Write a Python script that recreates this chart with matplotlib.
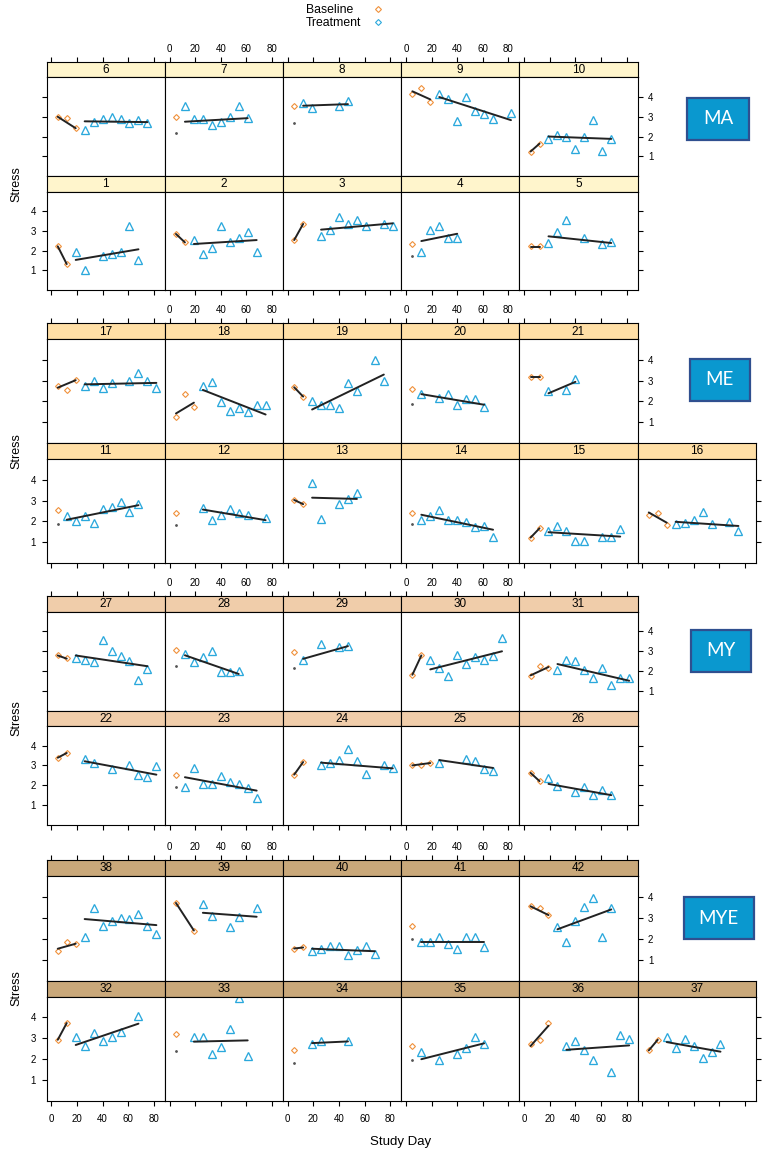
import numpy as np
import matplotlib
matplotlib.use('Agg')
import matplotlib.pyplot as plt
from matplotlib.patches import Rectangle
from matplotlib.lines import Line2D

plt.rcParams['font.family'] = ['Liberation Sans', 'DejaVu Sans']

# ---------------- data ----------------
groups = ['MA', 'ME', 'MY', 'MYE']
top_rows = [[6, 7, 8, 9, 10], [17, 18, 19, 20, 21], [27, 28, 29, 30, 31], [38, 39, 40, 41, 42]]
bottom_rows = [[1, 2, 3, 4, 5], [11, 12, 13, 14, 15, 16], [22, 23, 24, 25, 26], [32, 33, 34, 35, 36, 37]]
x_ticks = [0, 20, 40, 60, 80]
y_ticks = [1, 2, 3, 4]
legend_labels = ['Baseline', 'Treatment']
x_label = 'Study Day'
y_label = 'Stress'

base_days = {
    1: [5, 12], 2: [5, 12], 3: [5, 12], 4: [5], 5: [5, 12],
    6: [5, 12, 19], 7: [5], 8: [5], 9: [5, 12, 19], 10: [5, 12],
    11: [5], 12: [5], 13: [5, 12], 14: [5], 15: [5, 12], 16: [5, 12, 19],
    17: [5, 12, 19], 18: [5, 12, 19], 19: [5, 12], 20: [5], 21: [5, 12],
    22: [5, 12], 23: [5], 24: [5, 12], 25: [5, 12, 19], 26: [5, 12],
    27: [5, 12], 28: [5], 29: [5], 30: [5, 12], 31: [5, 12, 19],
    32: [5, 12], 33: [5], 34: [5], 35: [5], 36: [5, 12, 19], 37: [5, 12],
    38: [5, 12, 19], 39: [5, 19], 40: [5, 12], 41: [5], 42: [5, 12, 19],
}
base_vals = {
    1: [2.22, 1.32], 2: [2.85, 2.42], 3: [2.54, 3.36], 4: [2.34], 5: [2.22, 2.22],
    6: [3.0, 2.95, 2.42], 7: [2.98], 8: [3.54], 9: [4.14, 4.47, 3.73], 10: [1.24, 1.64],
    11: [2.54], 12: [2.41], 13: [3.03, 2.83], 14: [2.41], 15: [1.2, 1.66], 16: [2.33, 2.4, 1.83],
    17: [2.76, 2.56, 3.05], 18: [1.24, 2.37, 1.74], 19: [2.68, 2.23], 20: [2.58], 21: [3.19, 3.19],
    22: [3.39, 3.63], 23: [2.53], 24: [2.53, 3.17], 25: [3.02, 3.02, 3.13], 26: [2.62, 2.2],
    27: [2.79, 2.64], 28: [3.07], 29: [2.98], 30: [1.83, 2.79], 31: [1.76, 2.25, 2.18],
    32: [2.94, 3.73], 33: [3.22], 34: [2.43], 35: [2.63], 36: [2.75, 2.94, 3.75], 37: [2.43, 2.94],
    38: [1.4, 1.82, 1.73], 39: [3.71, 2.39], 40: [1.53, 1.58], 41: [2.6], 42: [3.56, 3.45, 3.13],
}
trt_days = {
    1: [19, 26, 40, 47, 54, 61, 68], 2: [19, 26, 33, 40, 47, 54, 61, 68],
    3: [26, 33, 40, 47, 54, 61, 75, 82], 4: [12, 19, 26, 33, 40], 5: [19, 26, 33, 47, 61, 68],
    6: [26, 33, 40, 47, 54, 61, 68, 75], 7: [12, 19, 26, 33, 40, 47, 54, 61], 8: [12, 19, 40, 47],
    9: [26, 33, 40, 47, 54, 61, 68, 82], 10: [19, 26, 33, 40, 47, 54, 61, 68],
    11: [12, 19, 26, 33, 40, 47, 54, 61, 68], 12: [26, 33, 40, 47, 54, 61, 75], 13: [19, 26, 40, 47, 54],
    14: [12, 19, 26, 33, 40, 47, 54, 61, 68], 15: [19, 26, 33, 40, 47, 61, 68, 75],
    16: [26, 33, 40, 47, 54, 68, 75],
    17: [26, 33, 40, 47, 61, 68, 75, 82], 18: [26, 33, 40, 47, 54, 61, 68, 75],
    19: [19, 26, 33, 40, 47, 54, 68, 75], 20: [12, 26, 33, 40, 47, 54, 61], 21: [19, 33, 40],
    22: [26, 33, 47, 61, 68, 75, 82], 23: [12, 19, 26, 33, 40, 47, 54, 61, 68],
    24: [26, 33, 40, 47, 54, 61, 75, 82], 25: [26, 47, 54, 61, 68], 26: [19, 26, 40, 47, 54, 61, 68],
    27: [19, 26, 33, 40, 47, 54, 61, 68, 75], 28: [12, 19, 26, 33, 40, 47, 54], 29: [12, 26, 40, 47],
    30: [19, 26, 33, 40, 47, 54, 61, 68, 75], 31: [26, 33, 40, 47, 54, 61, 68, 75, 82],
    32: [19, 26, 33, 40, 47, 54, 68], 33: [19, 26, 33, 40, 47, 54, 61], 34: [19, 26, 47],
    35: [12, 26, 40, 47, 54, 61], 36: [33, 40, 47, 54, 68, 75, 82], 37: [19, 26, 33, 40, 47, 54, 61],
    38: [26, 33, 40, 47, 54, 61, 68, 75, 82], 39: [26, 33, 47, 54, 68],
    40: [19, 26, 33, 40, 47, 54, 61, 68], 41: [12, 19, 26, 33, 40, 47, 54, 61],
    42: [26, 33, 40, 47, 54, 61, 68],
}
trt_vals = {
    1: [1.95, 1.03, 1.71, 1.81, 1.92, 3.25, 1.54], 2: [2.56, 1.85, 2.15, 3.27, 2.46, 2.66, 2.95, 1.95],
    3: [2.75, 3.03, 3.7, 3.37, 3.56, 3.24, 3.34, 3.24], 4: [1.95, 3.03, 3.25, 2.63, 2.63],
    5: [2.37, 2.95, 3.56, 2.66, 2.34, 2.46],
    6: [2.35, 2.75, 2.9, 2.97, 2.9, 2.66, 2.83, 2.66], 7: [3.54, 2.9, 2.9, 2.56, 2.76, 2.98, 3.54, 2.93],
    8: [3.7, 3.47, 3.54, 3.78], 9: [4.17, 3.92, 2.8, 3.98, 3.3, 3.14, 2.9, 3.2],
    10: [1.86, 2.1, 2.0, 1.37, 2.0, 2.86, 1.25, 1.86],
    11: [2.25, 2.02, 2.27, 1.94, 2.59, 2.7, 2.94, 2.44, 2.86], 12: [2.65, 2.06, 2.33, 2.6, 2.4, 2.29, 2.17],
    13: [3.84, 2.13, 2.86, 3.06, 3.35], 14: [2.05, 2.25, 2.57, 2.05, 2.05, 1.98, 1.71, 1.79, 1.27],
    15: [1.53, 1.77, 1.56, 1.05, 1.05, 1.24, 1.24, 1.64], 16: [1.86, 1.92, 2.06, 2.44, 1.86, 1.98, 1.52],
    17: [2.76, 3.0, 2.66, 2.87, 3.0, 3.37, 3.0, 2.66], 18: [2.76, 2.92, 1.97, 1.55, 1.68, 1.48, 1.81, 1.81],
    19: [2.0, 1.85, 1.85, 1.66, 2.9, 2.48, 3.98, 2.97], 20: [2.35, 2.15, 2.35, 1.85, 2.1, 2.1, 1.71],
    21: [2.48, 2.55, 3.1],
    22: [3.34, 3.14, 2.84, 3.0, 2.52, 2.43, 2.96], 23: [1.92, 2.88, 2.05, 2.05, 2.47, 2.15, 2.05, 1.87, 1.32],
    24: [3.02, 3.14, 3.26, 3.85, 3.24, 2.55, 3.0, 2.85], 25: [3.13, 3.34, 3.24, 2.84, 2.72],
    26: [2.35, 1.95, 1.64, 1.88, 1.51, 1.74, 1.49],
    27: [2.67, 2.55, 2.48, 3.56, 3.0, 2.78, 2.52, 1.57, 2.13], 28: [2.88, 2.46, 2.69, 3.02, 1.95, 1.95, 2.03],
    29: [2.54, 3.36, 3.22, 3.27], 30: [2.58, 2.15, 1.76, 2.79, 2.37, 2.69, 2.58, 2.75, 3.68],
    31: [2.08, 2.58, 2.52, 2.08, 1.66, 2.17, 1.29, 1.66, 1.66],
    32: [3.05, 2.65, 3.24, 2.87, 3.06, 3.32, 4.06], 33: [3.05, 3.05, 2.25, 2.56, 3.46, 4.92, 2.16],
    34: [2.75, 2.86, 2.86], 35: [2.33, 1.95, 2.24, 2.54, 3.05, 2.71],
    36: [2.65, 2.87, 2.46, 1.95, 1.37, 3.16, 2.95], 37: [3.05, 2.54, 2.96, 2.65, 2.05, 2.33, 2.75],
    38: [2.1, 3.45, 2.63, 2.85, 2.97, 2.95, 3.16, 2.6, 2.24], 39: [3.66, 3.11, 2.55, 3.05, 3.45],
    40: [1.42, 1.52, 1.65, 1.65, 1.23, 1.44, 1.65, 1.29], 41: [1.84, 1.84, 2.06, 1.73, 1.53, 2.06, 2.06, 1.61],
    42: [2.56, 1.85, 2.85, 3.53, 3.97, 2.06, 3.47],
}
# fitted values (start, end) of each phase; one value when the phase has one visit
base_fit = {
    1: (2.22, 1.32), 2: (2.85, 2.42), 3: (2.54, 3.36), 4: (1.71,), 5: (2.2, 2.2),
    6: (3.0, 2.42), 7: (2.19,), 8: (2.66,), 9: (4.29, 3.88), 10: (1.24, 1.64),
    11: (1.89,), 12: (1.81,), 13: (3.03, 2.83), 14: (1.86,), 15: (1.22, 1.67), 16: (2.43, 1.94),
    17: (2.66, 3.02), 18: (1.42, 1.94), 19: (2.68, 2.23), 20: (1.89,), 21: (3.19, 3.19),
    22: (3.39, 3.63), 23: (1.91,), 24: (2.53, 3.17), 25: (3.0, 3.12), 26: (2.62, 2.2),
    27: (2.79, 2.63), 28: (2.26,), 29: (2.16,), 30: (1.82, 2.79), 31: (1.79, 2.21),
    32: (2.93, 3.73), 33: (2.37,), 34: (1.8,), 35: (1.94,), 36: (2.63, 3.6), 37: (2.42, 2.93),
    38: (1.52, 1.76), 39: (3.71, 2.39), 40: (1.53, 1.58), 41: (1.98,), 42: (3.55, 3.13),
}
trt_fit = {
    1: (1.53, 2.07), 2: (2.34, 2.54), 3: (3.07, 3.39), 4: (2.49, 2.86), 5: (2.73, 2.39),
    6: (2.77, 2.73), 7: (2.75, 2.93), 8: (3.56, 3.64), 9: (4.0, 2.83), 10: (2.0, 1.88),
    11: (2.08, 2.78), 12: (2.57, 2.06), 13: (3.14, 3.08), 14: (2.32, 1.6), 15: (1.48, 1.27), 16: (1.98, 1.78),
    17: (2.82, 2.89), 18: (2.55, 1.37), 19: (1.61, 3.29), 20: (2.35, 1.84), 21: (2.39, 2.94),
    22: (3.21, 2.53), 23: (2.4, 1.72), 24: (3.14, 2.85), 25: (3.27, 2.87), 26: (2.06, 1.49),
    27: (2.79, 2.25), 28: (2.8, 1.86), 29: (2.62, 3.26), 30: (2.09, 3.0), 31: (2.36, 1.52),
    32: (2.68, 3.7), 33: (2.84, 2.9), 34: (2.77, 2.85), 35: (2.0, 2.76), 36: (2.45, 2.66), 37: (2.82, 2.36),
    38: (2.94, 2.65), 39: (3.24, 3.05), 40: (1.52, 1.4), 41: (1.82, 1.82), 42: (2.45, 3.4),
}

# ---------------- style / layout ----------------
strip_colors = ['#FFF5CC', '#FFDFA6', '#F0CDAA', '#C9A87A']
box_face = '#0A98CF'
box_edge = '#2F4F8F'
c_base = '#F0903A'
c_trt = '#2AA8DC'
c_line = '#222222'

W, H = 767, 1155
fig = plt.figure(figsize=(W / 100, H / 100), dpi=100)
fig.patch.set_facecolor('white')

# (strip1 top, panel1 top, panel1 bottom, panel2 top, panel2 bottom) in px
rows_y = [
    (62.0, 77.3, 176.0, 191.7, 290.0),
    (323.3, 339.0, 443.0, 459.0, 563.0),
    (596.0, 611.5, 711.0, 726.0, 824.5),
    (860.0, 876.0, 980.5, 996.5, 1101.0),
]
boxes = [(687, 98, 749, 139.5), (690, 358.7, 749.5, 400.7), (691, 629.7, 750.7, 672), (683.5, 897.3, 754, 939.3)]
col_left = 46.5
col_w = 118.2
XLIM = (-3.8, 88.5)
YLIM = (0, 5)
TICK_LEN = 3.4
TICK_FS = 7


def rect(x0, y0, x1, y1):
    return [x0 / W, 1 - y1 / H, (x1 - x0) / W, (y1 - y0) / H]


def style_spines(ax):
    for s in ax.spines.values():
        s.set_linewidth(0.8)
        s.set_color('black')


for g, name in enumerate(groups):
    s1, p1t, p1b, p2t, p2b = rows_y[g]
    last_group = (g == len(groups) - 1)
    for is_bottom, row, (st, pt, pb) in [(False, top_rows[g], (s1, p1t, p1b)),
                                         (True, bottom_rows[g], (p1b, p2t, p2b))]:
        n = len(row)
        for c, pid in enumerate(row):
            x0 = col_left + c * col_w
            x1 = x0 + col_w
            # strip
            sa = fig.add_axes(rect(x0, st, x1, pt))
            sa.set_facecolor(strip_colors[g])
            sa.set_xlim(*XLIM)
            sa.set_ylim(0, 1)
            sa.set_yticks([])
            style_spines(sa)
            if not is_bottom:
                sa.set_xticks(x_ticks)
                sa.tick_params(axis='x', bottom=False, labelbottom=False, top=True,
                               labeltop=(c in (1, 3)), direction='out', length=TICK_LEN,
                               width=0.8, labelsize=TICK_FS, pad=2.6)
            else:
                sa.set_xticks([])
            sa.text(0.5, 0.47, str(pid), transform=sa.transAxes, ha='center', va='center',
                    fontsize=8.5)
            # panel
            ax = fig.add_axes(rect(x0, pt, x1, pb))
            ax.set_xlim(*XLIM)
            ax.set_ylim(*YLIM)
            ax.set_xticks(x_ticks)
            ax.set_yticks(y_ticks)
            style_spines(ax)
            ax.tick_params(which='both', direction='out', length=TICK_LEN, width=0.8,
                           labelsize=TICK_FS)
            ax.tick_params(axis='x', top=False, labeltop=False, bottom=is_bottom,
                           labelbottom=(is_bottom and last_group and c % 2 == 0), pad=6)
            ax.tick_params(axis='y', left=(c == 0), labelleft=(c == 0 and is_bottom),
                           right=(c == n - 1), labelright=(c == n - 1 and not is_bottom), pad=4.2)

            bd, bv = base_days[pid], base_vals[pid]
            td, tv = trt_days[pid], trt_vals[pid]
            ax.plot(bd, bv, linestyle='none', marker='D', markersize=3.0, mfc='none',
                    mec=c_base, mew=0.8, zorder=2)
            ax.plot(td, tv, linestyle='none', marker='^', markersize=5.6, mfc='none',
                    mec=c_trt, mew=0.95, zorder=2)
            bf = base_fit[pid]
            if len(bd) > 1:
                ax.plot([bd[0], bd[-1]], bf, color=c_line, lw=1.4, zorder=3,
                        solid_capstyle='round')
            else:
                ax.plot([bd[0]], bf, linestyle='none', marker='o', markersize=1.0,
                        color='#555555', zorder=3)
            ax.plot([td[0], td[-1]], trt_fit[pid], color=c_line, lw=1.4, zorder=3,
                    solid_capstyle='round')

    # y label
    fig.text(16 / W, 1 - ((p1t + p2b) / 2) / H, y_label, rotation=90, ha='center', va='center',
             fontsize=9)
    # group box
    bx0, by0, bx1, by1 = boxes[g]
    fig.patches.append(Rectangle((bx0 / W, 1 - by1 / H), (bx1 - bx0) / W, (by1 - by0) / H,
                                 transform=fig.transFigure, facecolor=box_face,
                                 edgecolor=box_edge, lw=1.6))
    fig.text(((bx0 + bx1) / 2) / W, 1 - ((by0 + by1) / 2) / H, name, ha='center', va='center',
             color='white', fontsize=13.5, family=['Lato', 'DejaVu Sans'])

# x label
fig.text(401 / W, 1 - 1142 / H, x_label, ha='center', va='center', fontsize=9.5)

# legend
for i, (lab, col) in enumerate(zip(legend_labels, [c_base, c_trt])):
    yy = 10 + i * 13.5
    fig.text(306 / W, 1 - yy / H, lab, ha='left', va='center', fontsize=8.8)
    fig.add_artist(Line2D([378 / W], [1 - (yy - 1.5) / H], transform=fig.transFigure,
                          linestyle='none', marker='D', markersize=3.0, mfc='none',
                          mec=col, mew=0.8))

fig.savefig('out.png', dpi=100)
